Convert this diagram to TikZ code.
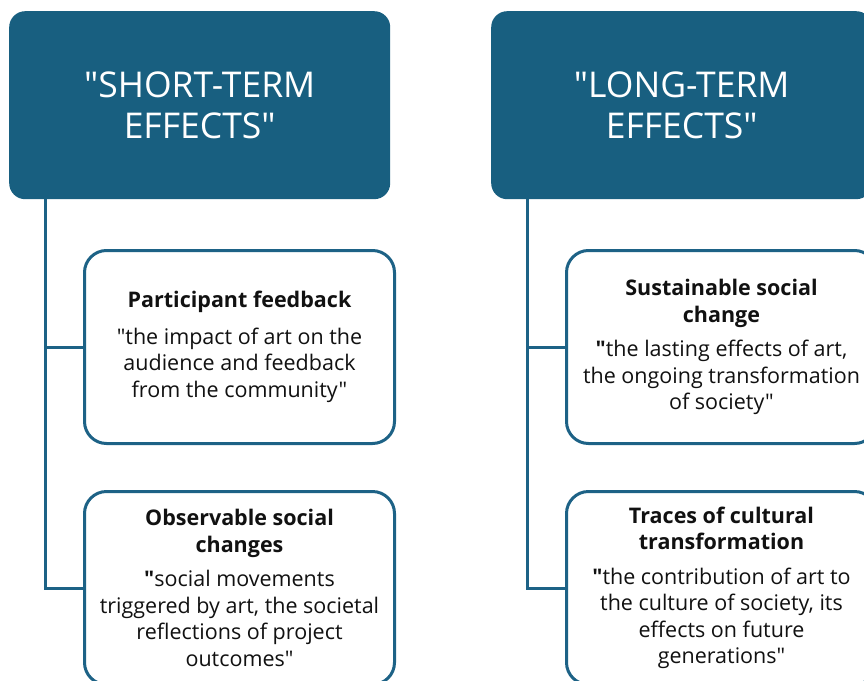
\documentclass[tikz,border=0pt]{standalone}
\usepackage{fontspec}
\setmainfont{Open Sans}[Ligatures=TeXOff]
\newcommand{\dq}{\char34\relax}
\definecolor{hdr}{HTML}{185F80}
\definecolor{edge}{HTML}{1D6286}
\definecolor{ink}{HTML}{111111}
\begin{document}
\begin{tikzpicture}[x=1pt,y=1pt,
  hdrbox/.style={fill=hdr, rounded corners=16pt, minimum width=381pt, minimum height=188pt,
    text=white, align=center, font=\fontsize{35.5}{41}\selectfont, inner sep=0pt},
  subbox/.style={draw=edge, line width=3pt, rounded corners=22pt, fill=white,
    minimum width=310pt, minimum height=193pt, align=center, text=ink,
    font=\fontsize{21.5}{26.5}\selectfont, inner sep=0pt},
  conn/.style={draw=edge, line width=3pt}]
\useasboundingbox (0,0) rectangle (864,-680);
\begin{scope}
\clip (0,0) rectangle (864,-680);
\node[hdrbox, anchor=north west] (st) at (9,-11) {\dq SHORT-TERM\\EFFECTS\dq};
\node[hdrbox, anchor=north west] (lt) at (491,-11) {\dq LONG-TERM\\EFFECTS\dq};
\node[subbox, anchor=north west] (p1) at (83,-249)
  {\textbf{Participant feedback}\\[10pt]\dq the impact of art on the\\audience and feedback\\from the community\dq};
\node[subbox, anchor=north west] (p2) at (83,-490)
  {\textbf{Observable social}\\\textbf{changes}\\[8pt]\textbf{\dq}social movements\\triggered by art, the societal\\reflections of project\\outcomes\dq};
\node[subbox, anchor=north west] (q1) at (565,-249)
  {\textbf{Sustainable social}\\\textbf{change}\\[8pt]\textbf{\dq}the lasting effects of art,\\the ongoing transformation\\of society\dq};
\node[subbox, anchor=north west] (q2) at (565,-490)
  {\textbf{Traces of cultural}\\\textbf{transformation}\\[8pt]\textbf{\dq}the contribution of art to\\the culture of society, its\\effects on future\\generations\dq};
\draw[conn] ([xshift=36pt]st.south west) |- (p1.west);
\draw[conn] ([xshift=36pt]st.south west) |- (p2.west);
\draw[conn] ([xshift=36pt]lt.south west) |- (q1.west);
\draw[conn] ([xshift=36pt]lt.south west) |- (q2.west);
\end{scope}
\end{tikzpicture}
\end{document}
